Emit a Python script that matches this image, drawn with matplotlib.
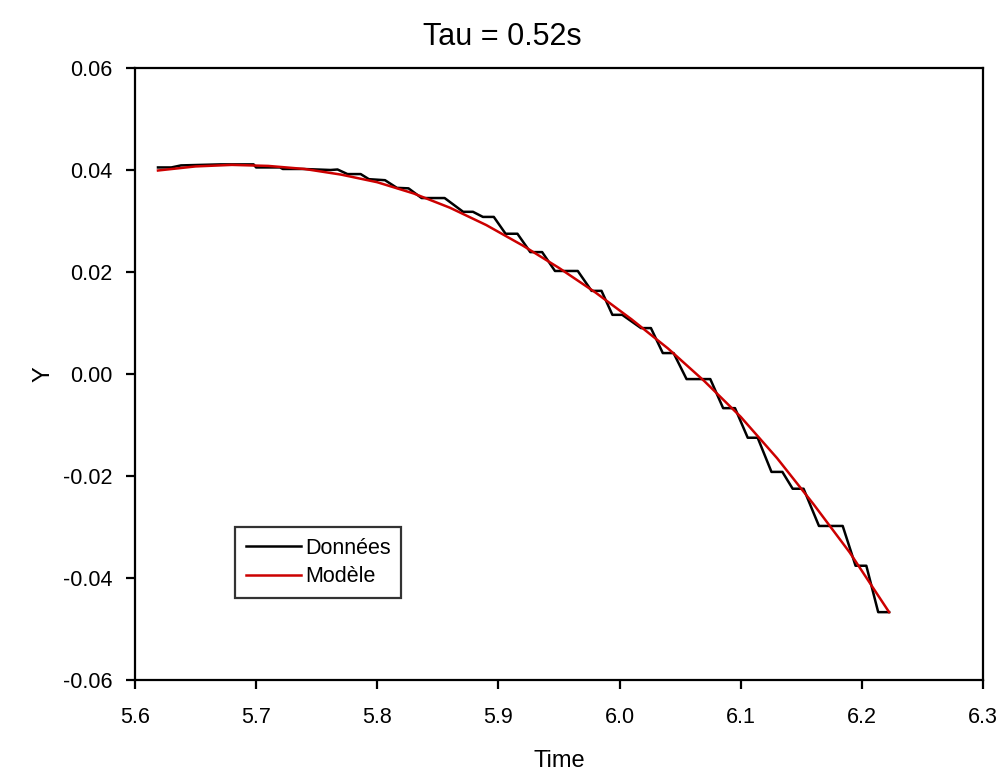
import matplotlib
matplotlib.use("Agg")
import matplotlib.pyplot as plt
from matplotlib.ticker import FormatStrFormatter

plt.rcParams['font.family'] = ['Liberation Sans', 'DejaVu Sans']
plt.rcParams['axes.unicode_minus'] = False

title = "Tau = 0.52s"
x_label = "Time"
y_label = "Y"
series_names = ["Données", "Modèle"]

# Measured data (staircase vertices)
data_t = [5.619, 5.630, 5.638, 5.6707, 5.6979, 5.700, 5.7197, 5.722, 5.7387,
          5.7615, 5.7672, 5.7754, 5.7863, 5.7931, 5.8064, 5.8162, 5.8258,
          5.8366, 5.8556, 5.8709, 5.8790, 5.8872, 5.8962, 5.9059, 5.9157,
          5.9263, 5.9361, 5.9467, 5.9655, 5.9769, 5.9851, 5.9941, 6.0022,
          6.0177, 6.0259, 6.0357, 6.0446, 6.0553, 6.0749, 6.0855, 6.0953,
          6.1058, 6.1140, 6.1254, 6.1344, 6.1429, 6.1519, 6.1646, 6.1842,
          6.1948, 6.2037, 6.2135, 6.2225]
data_y = [0.0405, 0.0405, 0.0409, 0.0411, 0.0411, 0.0405, 0.0405, 0.0402, 0.0402,
          0.0400, 0.0401, 0.0392, 0.0392, 0.0382, 0.0380, 0.0365, 0.0364,
          0.0345, 0.0345, 0.0318, 0.0318, 0.0308, 0.0308, 0.0275, 0.0275,
          0.0239, 0.0239, 0.0202, 0.0202, 0.0163, 0.0163, 0.0116, 0.0116,
          0.0090, 0.0090, 0.0041, 0.0041, -0.0010, -0.0010, -0.0067, -0.0067,
          -0.0125, -0.0125, -0.0192, -0.0192, -0.0225, -0.0225, -0.0298, -0.0298,
          -0.0376, -0.0376, -0.0467, -0.0467]

# Model curve
model_t = [5.619, 5.650, 5.680, 5.710, 5.740, 5.770, 5.800, 5.830, 5.860, 5.890,
           5.920, 5.950, 5.980, 6.010, 6.040, 6.070, 6.100, 6.130, 6.160, 6.190,
           6.2225]
model_y = [0.0399, 0.0407, 0.0410, 0.0408, 0.0402, 0.0391, 0.0376, 0.0354, 0.0326,
           0.0292, 0.0252, 0.0208, 0.0160, 0.0107, 0.0050, -0.0014, -0.0084,
           -0.0165, -0.0255, -0.0350, -0.0467]

x_ticks = [5.6, 5.7, 5.8, 5.9, 6.0, 6.1, 6.2, 6.3]
y_ticks = [-0.06, -0.04, -0.02, 0.00, 0.02, 0.04, 0.06]

fig = plt.figure(figsize=(10.05, 7.78), dpi=100)
ax = fig.add_axes([0.1343, 0.1260, 0.8438, 0.7866])

ax.plot(data_t, data_y, color='black', lw=1.8, label=series_names[0])
ax.plot(model_t, model_y, color='#cc0000', lw=1.8, label=series_names[1])

ax.set_xlim(5.6, 6.3)
ax.set_ylim(-0.06, 0.06)
ax.set_xticks(x_ticks)
ax.set_yticks(y_ticks)
ax.xaxis.set_major_formatter(FormatStrFormatter('%.1f'))
ax.yaxis.set_major_formatter(FormatStrFormatter('%.2f'))

for s in ax.spines.values():
    s.set_linewidth(1.6)
ax.tick_params(axis='both', direction='out', length=6.5, width=1.6,
               labelsize=15.5, top=False, right=False)
ax.tick_params(axis='x', pad=13)
ax.tick_params(axis='y', pad=10)

ax.set_xlabel(x_label, fontsize=17, labelpad=16)
ax.set_ylabel(y_label, fontsize=17, labelpad=6)
fig.suptitle(title, fontsize=22, x=0.5, y=0.972)

leg = ax.legend(loc='upper left', bbox_to_anchor=(0.118, 0.25), fontsize=15.5,
                frameon=True, fancybox=False, handlelength=2.55, handletextpad=0.2,
                borderpad=0.5, labelspacing=0.35, borderaxespad=0)
leg.get_frame().set_edgecolor('black')
leg.get_frame().set_linewidth(1.6)

fig.savefig('out.png', dpi=100)
